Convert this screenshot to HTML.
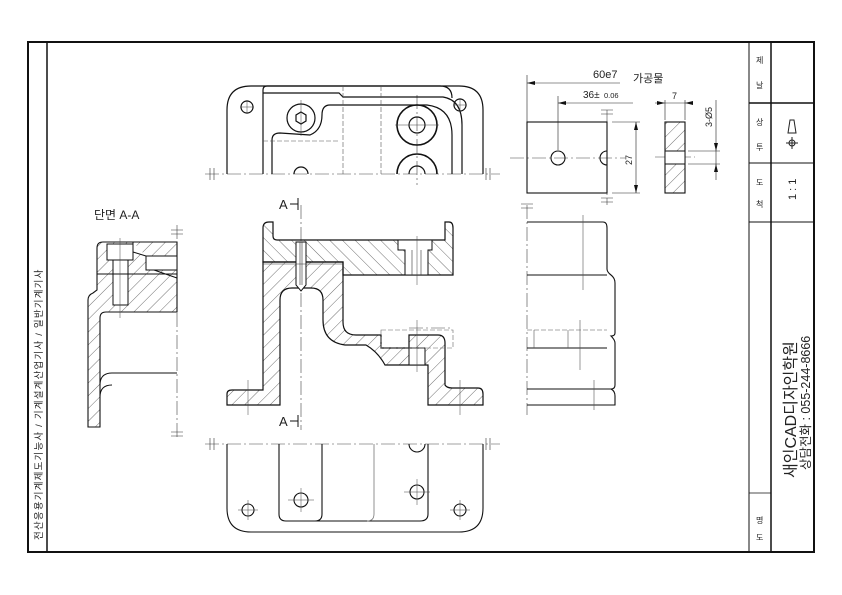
<!DOCTYPE html>
<html><head><meta charset="utf-8"><style>
html,body{margin:0;padding:0;background:#fff;}
svg{display:block;}
text{font-family:"Liberation Sans","Noto Sans CJK KR",sans-serif;fill:#222;}
</style></head><body>
<svg width="842" height="595" viewBox="0 0 842 595" xmlns="http://www.w3.org/2000/svg">
<defs>
<pattern id="h1" patternUnits="userSpaceOnUse" width="9" height="9" patternTransform="rotate(45)"><line x1="0" y1="0" x2="0" y2="9" stroke="#333" stroke-width="0.7"/></pattern>
<pattern id="h2" patternUnits="userSpaceOnUse" width="9" height="9" patternTransform="rotate(-45)"><line x1="0" y1="0" x2="0" y2="9" stroke="#333" stroke-width="0.7"/></pattern>
</defs>
<g fill="none" stroke="#111">
<rect x="28" y="42" width="786" height="510" stroke-width="2"/>
<line x1="47" y1="42" x2="47" y2="552" stroke-width="1.5"/>
<line x1="749" y1="42" x2="749" y2="552" stroke-width="1"/>
<line x1="771" y1="42" x2="771" y2="552" stroke-width="1.5"/>
<line x1="749" y1="103" x2="814" y2="103" stroke-width="1.5"/>
<line x1="749" y1="163" x2="814" y2="163" stroke-width="1"/>
<line x1="749" y1="222" x2="814" y2="222" stroke-width="1"/>
<line x1="749" y1="493" x2="771" y2="493" stroke-width="0.7"/>
</g>
<g font-size="8" fill="#555">
<text transform="translate(42,540) rotate(-90)" font-size="9.5" letter-spacing="1.2">전산응용기계제도기능사 / 기계설계산업기사 / 일반기계기사</text>
<text x="756" y="63">제</text><text x="756" y="88">날</text>
<text x="756" y="125">상</text><text x="756" y="150">투</text>
<text x="756" y="185">도</text><text x="756" y="207">척</text>
<text x="756" y="523">명</text><text x="756" y="540">도</text>
</g>
<text transform="translate(796,200) rotate(-90)" font-size="11">1 : 1</text>
<text transform="translate(796,478) rotate(-90)" font-size="16">새인CAD디자인학원</text>
<text transform="translate(810,470) rotate(-90)" font-size="12.5">상담전화 : 055-244-8666</text>
<g stroke="#222" fill="none" stroke-width="1"><circle cx="792" cy="143" r="3"/><line x1="786" y1="143" x2="798" y2="143"/><line x1="792" y1="137" x2="792" y2="149"/><path d="M790,120 L794,120 L796,133 L788,133 Z"/></g>

<g stroke="#444" stroke-width="0.6" stroke-dasharray="14,3,2,3" fill="none">
<line x1="205" y1="174" x2="500" y2="174"/>
<line x1="205" y1="444" x2="500" y2="444"/>
<line x1="301" y1="205" x2="301" y2="430"/>
<line x1="417" y1="95" x2="417" y2="185"/>
<line x1="177" y1="225" x2="177" y2="440"/>
<line x1="527" y1="205" x2="527" y2="415"/>
<line x1="607" y1="110" x2="607" y2="205"/>
<line x1="510" y1="158" x2="625" y2="158"/>
<line x1="655" y1="157" x2="695" y2="157"/>
<line x1="409" y1="328" x2="453" y2="328"/>
</g>
<g stroke="#333" stroke-width="0.6">
<path d="M210,168v12M214,168v12M486,168v12M490,168v12M210,438v12M214,438v12M486,438v12M490,438v12M171,230h12M171,234h12M171,432h12M171,436h12M521,204h12M521,208h12M601,110h12M601,114h12M601,198h12M601,202h12"/>
</g>

<g fill="none" stroke="#111" stroke-width="1.2">
<path d="M227,174 L227,110 Q227,86 251,86 L459,86 Q483,86 483,110 L483,174"/>
<path d="M263,174 L263,90 Q263,86 267,86 L440,86 Q452,86 452,98"/>
<path d="M272,174 L272,140 Q272,133 280,133 L310,135 Q322,130 322,115 Q322,105 330,105 L427,105 Q452,108 452,135 L452,174"/>
<path d="M263,93 L339,93 L343,97 L443,97 Q462,100 462,125 L462,174"/>
<circle cx="301" cy="118" r="14"/>
<path d="M301,112 L306,115 L306,121 L301,124 L296,121 L296,115 Z"/>
<circle cx="417" cy="125" r="20" stroke-width="1.6"/><circle cx="417" cy="125" r="8"/>
<path d="M397,174 A20,20 0 0 1 437,174" stroke-width="1.6"/><path d="M409,174 A8,8 0 0 1 425,174"/>
<path d="M294,174 A7,7 0 0 1 308,174"/>
<circle cx="247" cy="107" r="6"/><circle cx="460" cy="105" r="6"/>
</g>
<g stroke="#555" stroke-width="0.6" fill="none" stroke-dasharray="5,2">
<path d="M343,86 V174 M381,86 V174 M263,141 H340"/>
</g>
<g stroke="#444" stroke-width="0.5"><path d="M240,107h14M247,100v14M453,105h14M460,98v14M395,125h44M301,100v36"/></g>

<path d="M227,405 L227,394 Q227,390 232,390 L263,390 L263,262 L343,262 L343,322 Q343,335 356,335 L381,335 L381,348 L409,348 L409,335 L438,335 Q445,335 445,343 L445,385 Q447,388 452,388 L478,388 Q483,388 483,394 L483,405 L428,405 L428,365 L385,365 Q378,352 366,345 L345,345 Q323,342 323,320 L323,300 Q323,288 311,288 L292,288 Q280,288 280,300 L280,405 Z" fill="url(#h1)" stroke="#111" stroke-width="1.2"/>
<path d="M263,262 L263,228 Q263,222 269,222 L273,222 L273,236 Q273,240 277,240 L445,240 L445,222 L449,222 Q453,222 453,228 L453,275 L343,275 L343,262 Z" fill="url(#h2)" stroke="#111" stroke-width="1.2"/>
<g fill="#fff" stroke="#111" stroke-width="1">
<path d="M398,240 H432 V250 H428 V275 H405 V250 H398 Z"/>
<path d="M296,242 H306 V285 L301,291 L296,285 Z"/>
<rect x="409" y="348" width="16" height="17"/>
</g>
<g stroke="#333" stroke-width="0.6"><path d="M300,242V285M302,242V285M412,250V275M421,250V275M263,264H343"/></g>
<rect x="381" y="330" width="72" height="18" fill="none" stroke="#666" stroke-width="0.6" stroke-dasharray="5,2"/>
<g stroke="#444" stroke-width="0.5"><path d="M248,380V415M460,380V415M417,236V285M417,320V372"/></g>
<text x="279" y="209" font-size="13">A</text><path d="M290,204h8M298,198v12" stroke="#111" stroke-width="1"/>
<text x="279" y="426" font-size="13">A</text><path d="M290,421h8M298,415v12" stroke="#111" stroke-width="1"/>

<text x="94" y="219" font-size="12">단면 A-A</text>
<path d="M97,290 L97,248 Q97,242 103,242 L177,242 L177,312 L106,312 Q100,312 100,318 L100,427 L88,427 L88,300 Q88,295 93,293 Z" fill="url(#h1)" stroke="#111" stroke-width="1.1"/>
<g fill="#fff" stroke="#111" stroke-width="1">
<rect x="107" y="244" width="26" height="16"/>
<rect x="113" y="260" width="15" height="45"/>
<path d="M146,256 H177 V270 H146 Z"/>
<path d="M133,242 V252 L146,256"/>
</g>
<g fill="none" stroke="#111" stroke-width="1">
<path d="M97,274 H177"/>
<path d="M100,385 Q100,373 112,373 H177 M100,397 Q100,385 112,385"/>
<path d="M154,270 L177,278"/>
</g>
<path d="M120,238V318" stroke="#444" stroke-width="0.5"/>

<g fill="none" stroke="#111" stroke-width="1.1">
<rect x="527" y="122" width="80" height="71"/>
<circle cx="558" cy="158" r="7"/>
<path d="M607,151 A7,7 0 0 0 607,165"/>
</g>
<rect x="665" y="122" width="20" height="71" fill="url(#h1)" stroke="#111" stroke-width="1.1"/>
<rect x="665" y="151" width="20" height="13" fill="#fff" stroke="#111" stroke-width="1"/>
<g stroke="#222" stroke-width="0.6" fill="none">
<path d="M527,75V122M527,83H620M558,96V150M558,103H633M665,100V120M685,100V120M655,103H693M612,122H640M612,193H640M636,122V193M688,151H720M688,164H720M716,100V180"/>
</g>
<g fill="#111"><path d="M527,83l8,-2v4z M558,103l8,-2v4z M665,103l-8,-2v4z M685,103l8,-2v4z M636,122l-2,8h4z M636,193l-2,-8h4z M716,151l-2,-8h4z M716,164l-2,8h4z"/></g>
<text x="593" y="78" font-size="11">60e7</text>
<text x="633" y="82" font-size="11">가공물</text>
<text x="583" y="98" font-size="10">36±</text><text x="604" y="98" font-size="7.5">0.06</text>
<text x="672" y="99" font-size="9">7</text>
<text transform="translate(632,165) rotate(-90)" font-size="9">27</text>
<text transform="translate(712,127) rotate(-90)" font-size="9">3-Ø5</text>

<g fill="none" stroke="#111" stroke-width="1.1">
<path d="M527,222 H603 Q607,222 607,228 V269 Q607,272 611,275 Q615,278 615,283 V333 Q615,336 611,336 Q615,340 615,343 V385 Q615,389 611,389"/>
<path d="M527,275 H607 M527,348 H607 M527,389 H611 Q615,391 615,396 V405 H527"/>
</g>
<g stroke="#555" stroke-width="0.6" fill="none"><path d="M527,330 H607" stroke-dasharray="5,2"/><path d="M534,330V348M568,330V348M580,330V348M583,215V290M580,320V370M594,380V410"/></g>

<g fill="none" stroke="#111" stroke-width="1.1">
<path d="M227,444 V508 Q227,532 251,532 H459 Q483,532 483,508 V444"/>
<path d="M279,444 V514 Q279,521 286,521 H420 Q428,521 428,514 V444"/>
<path d="M322,444 V514 Q322,521 315,521"/>
<circle cx="248" cy="510" r="6"/><circle cx="301" cy="500" r="7"/><circle cx="417" cy="492" r="7"/><circle cx="460" cy="510" r="6"/>
<path d="M409,444 A8,8 0 0 0 425,444"/>
</g>
<path d="M374,444 V514 Q374,521 367,521" stroke="#777" stroke-width="0.8" fill="none"/>
<g stroke="#444" stroke-width="0.5"><path d="M238,510h20M248,500v20M288,500h26M301,488v24M404,492h26M417,479v26M450,510h20M460,500v20"/></g>
</svg>
</body></html>
